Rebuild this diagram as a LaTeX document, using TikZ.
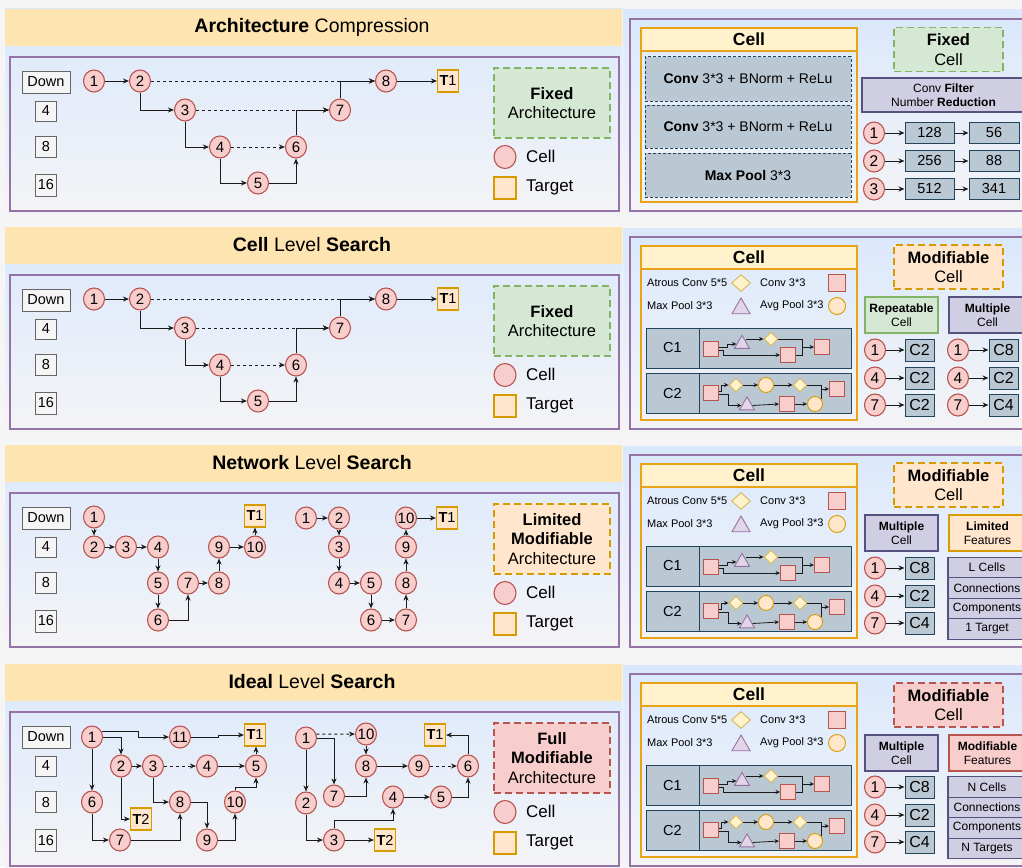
\documentclass[tikz,border=0pt]{standalone}
\usepackage{fontspec}
\setmainfont{Liberation Sans}
\usetikzlibrary{shapes.geometric,arrows.meta,calc}

\definecolor{pagebg}{HTML}{F5F5F5}
\definecolor{bgtop}{HTML}{DAE8FC}
\definecolor{bgbot}{HTML}{F4F4F6}
\definecolor{hdrc}{HTML}{FDE4B0}
\definecolor{purpc}{HTML}{9673A6}
\definecolor{nfill}{HTML}{F8CECC}
\definecolor{ndraw}{HTML}{B85450}
\definecolor{tfill}{HTML}{FFE6CC}
\definecolor{tdraw}{HTML}{D79B00}
\definecolor{gfill}{HTML}{D5E8D4}
\definecolor{gdraw}{HTML}{82B366}
\definecolor{yfill}{HTML}{FFF2CC}
\definecolor{ydraw}{HTML}{D6B656}
\definecolor{bfill}{HTML}{BAC8D3}
\definecolor{bdraw}{HTML}{23445D}
\definecolor{lfill}{HTML}{D0CEE2}
\definecolor{ldraw}{HTML}{56517E}
\definecolor{pfill}{HTML}{E1D5E7}
\definecolor{lvfill}{HTML}{F5F5F5}
\definecolor{lvdraw}{HTML}{666666}
\definecolor{edgec}{HTML}{1A1A1A}
\definecolor{cellc}{HTML}{E8A317}

\tikzset{
  purp/.style={draw=purpc,line width=1.8pt},
  titlef/.style={font=\fontsize{19.5}{22}\selectfont,inner sep=0pt},
  lvlbox/.style={rectangle,draw=lvdraw,fill=lvfill,line width=0.9pt,minimum width=21pt,minimum height=21pt,inner sep=0pt,font=\fontsize{14.5}{16}\selectfont},
  cellnode/.style={ellipse,draw=ndraw,fill=nfill,line width=1.1pt,minimum width=21pt,minimum height=22pt,inner sep=0pt,font=\fontsize{15}{16}\selectfont},
  tgt/.style={rectangle,draw=tdraw,fill=tfill,line width=1.1pt,minimum width=21pt,minimum height=22pt,inner sep=0pt,font=\fontsize{14.5}{16}\selectfont},
  ed/.style={draw=edgec,line width=1pt,-{Stealth[length=6pt,width=5pt]}},
  ded/.style={ed,dash pattern=on 3pt off 3pt},
  bigbox/.style={rectangle,line width=1.3pt,dash pattern=on 7pt off 4pt,minimum width=116pt,minimum height=70pt,align=center,inner sep=0pt,font=\fontsize{16.5}{19.5}\selectfont},
  legtxt/.style={anchor=west,inner sep=0pt,font=\fontsize{17}{19}\selectfont},
  cellframe/.style={draw=cellc,line width=1.3pt},
  celltitle/.style={rectangle,draw=cellc,fill=yfill,line width=1.3pt,minimum width=216pt,minimum height=23pt,inner sep=0pt,font=\fontsize{17.5}{20}\selectfont\bfseries},
  opbox/.style={rectangle,draw=bdraw,fill=bfill,line width=1pt,dash pattern=on 3pt off 2pt,minimum width=206pt,minimum height=44pt,inner sep=0pt,font=\fontsize{14}{16}\selectfont},
  smallbox/.style={rectangle,line width=1.3pt,dash pattern=on 7pt off 4pt,minimum width=109pt,minimum height=44pt,align=center,inner sep=0pt,font=\fontsize{16.5}{19.3}\selectfont},
  lblbox/.style={rectangle,draw=ldraw,fill=lfill,line width=1.2pt,minimum width=73pt,minimum height=36pt,align=center,inner sep=0pt,font=\fontsize{12}{14.5}\selectfont},
  rcell/.style={ellipse,draw=ndraw,fill=nfill,line width=1.1pt,minimum width=21pt,minimum height=22pt,inner sep=0pt,font=\fontsize{15.5}{17}\selectfont},
  cbox/.style={rectangle,draw=bdraw,fill=bfill,line width=1pt,minimum width=29pt,minimum height=22pt,inner sep=0pt,font=\fontsize{16}{18}\selectfont},
  numbox/.style={rectangle,draw=bdraw,fill=bfill,line width=1pt,minimum width=49pt,minimum height=21pt,inner sep=0pt,font=\fontsize{14.5}{16}\selectfont},
  featbox/.style={rectangle,draw=ldraw,fill=lfill,line width=1.2pt,minimum width=78pt,minimum height=20.5pt,inner sep=0pt,font=\fontsize{12}{14}\selectfont},
  barbox/.style={rectangle,draw=bdraw,fill=bfill,line width=1pt,minimum width=205pt,minimum height=40pt,inner sep=0pt},
  barlbl/.style={inner sep=0pt,font=\fontsize{14.5}{16}\selectfont},
  legsmall/.style={anchor=west,inner sep=0pt,font=\fontsize{11}{13}\selectfont},
  msq/.style={rectangle,draw=ndraw,fill=nfill,line width=0.9pt,minimum size=15pt,inner sep=0pt},
  mdia/.style={diamond,aspect=1,draw=ydraw,fill=yfill,line width=0.9pt,minimum width=14pt,minimum height=14pt,inner sep=0pt},
  mtri/.style={regular polygon,regular polygon sides=3,draw=purpc,fill=pfill,line width=0.9pt,minimum size=17.3pt,inner sep=0pt},
  mcirc/.style={circle,draw=tdraw,fill=tfill,line width=0.9pt,minimum size=15pt,inner sep=0pt},
  med/.style={draw=edgec,line width=0.8pt,-{Stealth[length=4.5pt,width=4pt]}},
  mln/.style={draw=edgec,line width=0.8pt},
}

\newcommand\leftframe[1]{%
  \shade[top color=bgtop,bottom color=bgbot] (5,9) rectangle (622,214);
  \fill[hdrc] (5,9) rectangle (622,46);
  \node[titlef] (title) at (312,27) {#1};
  \draw[purp] (10,57) rectangle (619,211);
  \node[lvlbox,minimum width=48pt,minimum height=22pt] (down) at (46,82) {Down};
  \node[lvlbox,minimum height=20pt] (lv4) at (46,111) {4};
  \node[lvlbox] (lv8) at (46,147) {8};
  \node[lvlbox,minimum height=22pt] (lv16) at (46,185) {16};
  \shade[top color=bgtop,bottom color=bgbot] (623,10) rectangle (1022,214);
  \draw[purp] (1030,19) -- (630,19) -- (630,211) -- (1030,211);
}
\newcommand\archlegend[3]{%
  \node[bigbox,fill=#1,draw=#2] (arch) at (552,103) {#3};
  \node[cellnode,minimum width=22pt,minimum height=23pt] (lgc) at (505,157) {};
  \node[legtxt] (lgct) at (526,156) {Cell};
  \node[tgt,minimum width=22pt,minimum height=22pt] (lgt) at (505,188) {};
  \node[legtxt] (lgtt) at (526,187) {Target};
}
\newcommand\basegraph{%
  \node[cellnode] (n1) at (94,81) {1};
  \node[cellnode] (n2) at (140,81) {2};
  \node[cellnode] (n3) at (185,110) {3};
  \node[cellnode] (n4) at (220,147) {4};
  \node[cellnode] (n5) at (258,183) {5};
  \node[cellnode] (n6) at (296,147) {6};
  \node[cellnode] (n7) at (340,110) {7};
  \node[cellnode] (n8) at (386,81) {8};
  \node[tgt] (t1) at (448,81) {\textbf{T}1};
  \draw[ed] (n1) -- (n2);
  \draw[ded] (n2) -- (n8);
  \draw[ed] (n2.south) |- (n3);
  \draw[ded] (n3) -- (n7);
  \draw[ed] (n3.south) |- (n4);
  \draw[ded] (n4) -- (n6);
  \draw[ed] (n4.south) |- (n5);
  \draw[ed] (n5) -| (n6.south);
  \draw[ed] (n6.north) |- (n7);
  \draw[ed] (n7.north) |- (n8);
  \draw[ed] (n8) -- (t1);
}
\newcommand\cellpanel{%
  \node[celltitle] (ctitle) at (749,39.5) {Cell};
  \draw[cellframe] (641,28) rectangle (857,202);
  \node[legsmall] (lg1) at (647,65) {Atrous Conv 5*5};
  \node[mdia,minimum width=19pt,minimum height=17pt] (lg1s) at (741,65) {};
  \node[legsmall] (lg2) at (760,65) {Conv 3*3};
  \node[msq,minimum size=17pt] (lg2s) at (837,65) {};
  \node[legsmall] (lg3) at (647,88) {Max Pool 3*3};
  \node[mtri,minimum size=21pt] (lg3s) at (741,90.5) {};
  \node[legsmall] (lg4) at (760,88) {Avg Pool 3*3};
  \node[mcirc,minimum size=17pt] (lg4s) at (837,88) {};
  % C1
  \node[barbox] (bar1) at (748.5,130) {};
  \draw[bdraw,line width=1pt] (699,110) -- (699,150);
  \node[barlbl] (bl1) at (672.5,130) {C1};
  \node[msq] (ma) at (711,131) {};
  \node[mtri] (mt) at (742,126) {};
  \node[mdia] (md) at (771,121) {};
  \node[msq] (mb) at (788,137) {};
  \node[msq] (mc) at (822,129) {};
  \coordinate (mj) at (802,129);
  \draw[med] ([yshift=1.5pt]ma.east) -- ++(8,0) |- (mt.west);
  \draw[med] ([yshift=-1.5pt]ma.east) -- ++(4,0) |- (mb.west);
  \draw[med] (md.west -| mt.north east) -- (md.west);
  \draw[med] (md.east) -| (mj) -- (mc.west);
  \draw[mln] (mb.east) -| (mj);
  % C2
  \node[barbox] (bar2) at (748.5,175.5) {};
  \draw[bdraw,line width=1pt] (699,155) -- (699,196);
  \node[barlbl] (bl2) at (672.5,175.5) {C2};
  \node[msq] (na) at (711,175) {};
  \node[mdia] (nd1) at (736,167) {};
  \node[mcirc] (nc1) at (766,167) {};
  \node[mdia] (nd2) at (800,167) {};
  \node[msq] (no) at (837,171) {};
  \node[mtri] (nt) at (747,187.5) {};
  \node[msq] (nb) at (787,186) {};
  \node[mcirc] (nc2) at (815,186) {};
  \coordinate (nj) at (821,171);
  \draw[med] ([yshift=1.5pt]na.east) -- ++(2,0) |- (nd1.west);
  \draw[med] ([yshift=-1.5pt]na.east) -- ++(9.5,0) |- (nt.west);
  \draw[med] (nd1) -- (nc1);
  \draw[med] (nc1) -- (nd2);
  \draw[med] (nd2.east) -| (nj) -- (no.west);
  \draw[mln] (nc2.40) |- (nj);
  \draw[med] (nt.east) -- (nb.west);
  \draw[med] (nb) -- (nc2);
}
\newcommand\multrows{%
  \foreach \k/\yy/\va in {1/132/C8, 4/160/C2, 7/187/C4} {
    \node[rcell] (p\k) at (875,\yy) {\k};
    \node[cbox] (pa\k) at (919.5,\yy) {\va};
    \draw[ed] (p\k) -- (pa\k);
  }
}

\begin{document}
\begin{tikzpicture}[x=1pt,y=-1pt]
\useasboundingbox (0,0) rectangle (1022,867);
\clip (0,0) rectangle (1022,867);
\fill[pagebg] (0,0) rectangle (1022,867);

% ================= Row 1
\begin{scope}[name prefix=r1-]
  \leftframe{\textbf{Architecture} Compression}
  \basegraph
  \archlegend{gfill}{gdraw}{\textbf{Fixed}\\Architecture}
  \node[celltitle] (ctitle) at (749,39.5) {Cell};
  \draw[cellframe] (641,28) rectangle (857,202);
  \node[opbox] (op1) at (748,79) {\textbf{Conv} 3*3 + BNorm + ReLu};
  \node[opbox,minimum height=43pt] (op2) at (748,126.5) {\textbf{Conv} 3*3 + BNorm + ReLu};
  \node[opbox] (op3) at (748,175) {\textbf{Max Pool} 3*3};
  \node[smallbox,fill=gfill,draw=gdraw] (fcell) at (948.5,49.5) {\textbf{Fixed}\\Cell};
  \node[lblbox,minimum width=163pt,minimum height=34pt,font=\fontsize{12}{13.5}\selectfont] (cfn) at (943.5,95) {Conv \textbf{Filter}\\Number \textbf{Reduction}};
  \foreach \k/\yy/\va/\vb in {1/133/128/56, 2/161/256/88, 3/189/512/341} {
    \node[rcell] (q\k) at (874,\yy) {\k};
    \node[numbox] (qa\k) at (929.5,\yy) {\va};
    \node[numbox,minimum width=50pt] (qb\k) at (994,\yy) {\vb};
    \draw[ed] (q\k) -- (qa\k);
    \draw[ed] (qa\k) -- (qb\k);
  }
\end{scope}

% ================= Row 2
\begin{scope}[shift={(0,218)},name prefix=r2-]
  \leftframe{\textbf{Cell} Level \textbf{Search}}
  \basegraph
  \archlegend{gfill}{gdraw}{\textbf{Fixed}\\Architecture}
  \cellpanel
  \node[smallbox,fill=tfill,draw=tdraw] (mcell) at (948.5,49) {\textbf{Modifiable}\\Cell};
  \node[lblbox,fill=gfill,draw=gdraw] (rep) at (901.5,97) {\textbf{Repeatable}\\Cell};
  \node[lblbox,minimum width=77pt] (mul) at (987.5,97) {\textbf{Multiple}\\Cell};
  \foreach \k/\yy/\va/\vb in {1/132/C2/C8, 4/160/C2/C2, 7/187/C2/C4} {
    \node[rcell] (p\k) at (875,\yy) {\k};
    \node[cbox] (pa\k) at (919.5,\yy) {\va};
    \draw[ed] (p\k) -- (pa\k);
    \node[rcell] (s\k) at (958,\yy) {\k};
    \node[cbox] (sa\k) at (1003.5,\yy) {\vb};
    \draw[ed] (s\k) -- (sa\k);
  }
\end{scope}

% ================= Row 3
\begin{scope}[shift={(0,436)},name prefix=r3-]
  \leftframe{\textbf{Network} Level \textbf{Search}}
  \node[cellnode] (a1) at (94,81) {1};
  \node[cellnode] (a2) at (94,111) {2};
  \node[cellnode] (a3) at (126,111) {3};
  \node[cellnode] (a4) at (158,111) {4};
  \node[cellnode] (a5) at (158,147) {5};
  \node[cellnode] (a6) at (158,184) {6};
  \node[cellnode] (a7) at (188,147) {7};
  \node[cellnode] (a8) at (219,147) {8};
  \node[cellnode] (a9) at (219,111) {9};
  \node[cellnode] (a10) at (255,111) {\makebox[0pt]{10}};
  \node[tgt] (at1) at (255,80) {\textbf{T}1};
  \draw[ed] (a1) -- (a2);
  \draw[ed] (a2) -- (a3);
  \draw[ed] (a3) -- (a4);
  \draw[ed] (a4) -- (a5);
  \draw[ed] (a5) -- (a6);
  \draw[ed] (a6) -| (a7);
  \draw[ed] (a7) -- (a8);
  \draw[ed] (a8) -- (a9);
  \draw[ed] (a9) -- (a10);
  \draw[ed] (a10) -- (at1);
  \node[cellnode] (e1) at (306,82) {1};
  \node[cellnode] (e2) at (339,82) {2};
  \node[cellnode] (e3) at (339,111) {3};
  \node[cellnode] (e4) at (339,147) {4};
  \node[cellnode] (e5) at (371,147) {5};
  \node[cellnode] (e6) at (371,184) {6};
  \node[cellnode] (e7) at (406,184) {7};
  \node[cellnode] (e8) at (406,147) {8};
  \node[cellnode] (e9) at (406,111) {9};
  \node[cellnode] (e10) at (406,82) {\makebox[0pt]{10}};
  \node[tgt] (et1) at (447,82) {\textbf{T}1};
  \draw[ed] (e1) -- (e2);
  \draw[ed] (e2) -- (e3);
  \draw[ed] (e3) -- (e4);
  \draw[ed] (e4) -- (e5);
  \draw[ed] (e5) -- (e6);
  \draw[ed] (e6) -- (e7);
  \draw[ed] (e7) -- (e8);
  \draw[ed] (e8) -- (e9);
  \draw[ed] (e9) -- (e10);
  \draw[ed] (e10) -- (et1);
  \archlegend{tfill}{tdraw}{\textbf{Limited}\\\textbf{Modifiable}\\Architecture}
  \cellpanel
  \node[smallbox,fill=tfill,draw=tdraw] (mcell) at (948.5,49) {\textbf{Modifiable}\\Cell};
  \node[lblbox] (mul) at (901.5,97) {\textbf{Multiple}\\Cell};
  \node[lblbox,fill=tfill,draw=tdraw,minimum width=77pt] (lim) at (987.5,97) {\textbf{Limited}\\Features};
  \multrows
  \node[featbox] (f1) at (987,131.5) {L Cells};
  \node[featbox] (f2) at (987,152) {Connections};
  \node[featbox] (f3) at (987,172.5) {Components};
  \node[featbox] (f4) at (987,193) {1 Target};
\end{scope}

% ================= Row 4
\begin{scope}[shift={(0,655)},name prefix=r4-]
  \leftframe{\textbf{Ideal} Level \textbf{Search}}
  \node[cellnode] (b1) at (92,82) {1};
  \node[cellnode] (b11) at (180,82) {\makebox[0pt]{11}};
  \node[tgt] (bt1) at (255,80) {\textbf{T}1};
  \node[cellnode] (b2) at (121,111) {2};
  \node[cellnode] (b3) at (153,111) {3};
  \node[cellnode] (b4) at (207,111) {4};
  \node[cellnode] (b5) at (256,111) {5};
  \node[cellnode] (b6) at (92,147) {6};
  \node[cellnode] (b8) at (180,147) {8};
  \node[cellnode] (b10) at (235,147) {\makebox[0pt]{10}};
  \node[tgt] (bt2) at (141,164) {\textbf{T}2};
  \node[cellnode] (b7) at (120,185) {7};
  \node[cellnode] (b9) at (207,185) {9};
  \draw[ed] (b1.30) -- ++(37,0) |- (b11);
  \draw[ed] (b1) -| (b2);
  \draw[ed] (b1) -- (b6);
  \draw[ed] (b11) -- ++(38,0) |- (bt1);
  \draw[ed] (b2) -- (b3);
  \draw[ed] (b2) |- (bt2);
  \draw[ded] (b3) -- (b4);
  \draw[ed] (b4) -- (b5);
  \draw[ed] (b5) -- (b5 |- bt1.south);
  \draw[ed] (b3) |- (b8);
  \draw[ed] (b8) -| (b9);
  \draw[ed] (b6) |- (b7);
  \draw[ed] (b7) -| (b8);
  \draw[ed] (b9) -| (b10);
  \draw[ed] (b10) -- ++(0,-15) -| (b5);
  \node[cellnode] (c1) at (306,83) {1};
  \node[cellnode] (c10) at (366,79) {\makebox[0pt]{10}};
  \node[tgt] (ct1) at (435,80) {\textbf{T}1};
  \node[cellnode] (c8) at (366,111) {8};
  \node[cellnode] (c9) at (419,111) {9};
  \node[cellnode] (c6) at (468,111) {6};
  \node[cellnode] (c7) at (334,141) {7};
  \node[cellnode] (c4) at (393,142) {4};
  \node[cellnode] (c5) at (441,142) {5};
  \node[cellnode] (c2) at (306,148) {2};
  \node[cellnode] (c3) at (334,185) {3};
  \node[tgt] (ct2) at (385,185) {\textbf{T}2};
  \draw[ded] (c1.20) -- (c10);
  \draw[ed] (c1) -| (c7);
  \draw[ed] (c1) -- (c2);
  \draw[ed] (c10) -- (c8);
  \draw[ed] (c7) -| (c8);
  \draw[ed] (c8) -- (c9);
  \draw[ded] (c9) -- (c6);
  \draw[ed] (c6) |- (ct1);
  \draw[ed] (c2) |- (c3);
  \draw[ed] (c3) -- (ct2);
  \draw[ed] (c3) -- ++(0,-20) -| (c4);
  \draw[ed] (c4) -- (c5);
  \draw[ed] (c5) -| (c6);
  \archlegend{nfill}{ndraw}{\textbf{Full}\\\textbf{Modifiable}\\Architecture}
  \cellpanel
  \node[smallbox,fill=nfill,draw=ndraw] (mcell) at (948.5,50) {\textbf{Modifiable}\\Cell};
  \node[lblbox] (mul) at (901.5,98) {\textbf{Multiple}\\Cell};
  \node[lblbox,fill=nfill,draw=ndraw,minimum width=77pt] (modf) at (987.5,98) {\textbf{Modifiable}\\Features};
  \multrows
  \node[featbox] (f1) at (987,132) {N Cells};
  \node[featbox] (f2) at (987,152.5) {Connections};
  \node[featbox] (f3) at (987,173) {Components};
  \node[featbox] (f4) at (987,193.5) {N Targets};
\end{scope}
\end{tikzpicture}
\end{document}
